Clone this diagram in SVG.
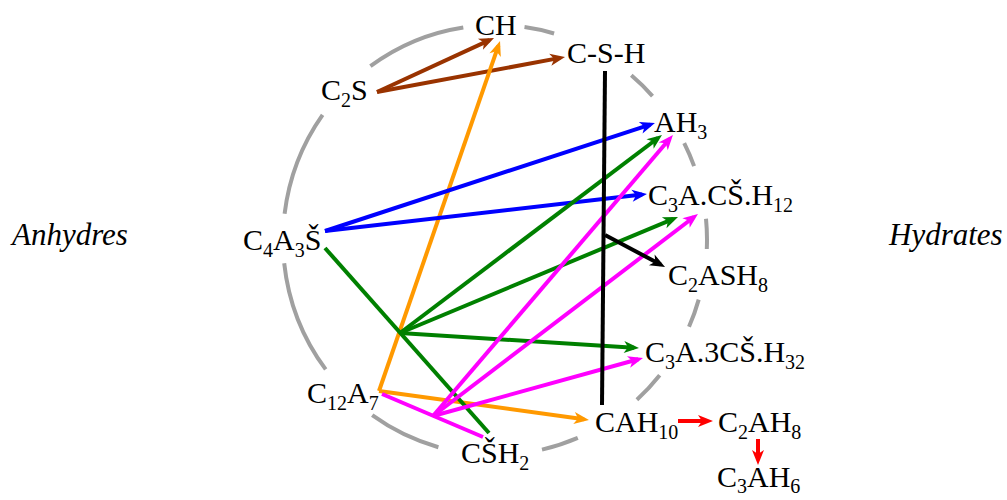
<svg xmlns="http://www.w3.org/2000/svg" width="1007" height="500" viewBox="0 0 1007 500">
<style>
.lbl{font-family:"Liberation Serif","Times New Roman",serif;font-size:30px;fill:#000}
.sub{font-size:20px}
.side{font-family:"Liberation Serif","Times New Roman",serif;font-size:31px;font-style:italic;fill:#000}
.c{fill:none;stroke-width:4;stroke-linecap:butt}
.ring{fill:none;stroke:#a0a0a0;stroke-width:4}
</style>
<defs>
<marker id="mBrown" markerUnits="userSpaceOnUse" orient="auto" refX="0" refY="0" markerWidth="30" markerHeight="30" viewBox="-15 -15 30 30" overflow="visible"><path d="M5,0 L-10,-6 L-6,0 L-10,6 Z" fill="#993300"/></marker>
<marker id="mOrange" markerUnits="userSpaceOnUse" orient="auto" refX="0" refY="0" markerWidth="30" markerHeight="30" viewBox="-15 -15 30 30" overflow="visible"><path d="M5,0 L-10,-6 L-6,0 L-10,6 Z" fill="#ff9900"/></marker>
<marker id="mBlue" markerUnits="userSpaceOnUse" orient="auto" refX="0" refY="0" markerWidth="30" markerHeight="30" viewBox="-15 -15 30 30" overflow="visible"><path d="M5,0 L-10,-6 L-6,0 L-10,6 Z" fill="#0000ff"/></marker>
<marker id="mGreen" markerUnits="userSpaceOnUse" orient="auto" refX="0" refY="0" markerWidth="30" markerHeight="30" viewBox="-15 -15 30 30" overflow="visible"><path d="M5,0 L-10,-6 L-6,0 L-10,6 Z" fill="#008000"/></marker>
<marker id="mMagenta" markerUnits="userSpaceOnUse" orient="auto" refX="0" refY="0" markerWidth="30" markerHeight="30" viewBox="-15 -15 30 30" overflow="visible"><path d="M5,0 L-10,-6 L-6,0 L-10,6 Z" fill="#ff00ff"/></marker>
<marker id="mBlack" markerUnits="userSpaceOnUse" orient="auto" refX="0" refY="0" markerWidth="30" markerHeight="30" viewBox="-15 -15 30 30" overflow="visible"><path d="M5,0 L-10,-6 L-6,0 L-10,6 Z" fill="#000000"/></marker>
<marker id="mRed" markerUnits="userSpaceOnUse" orient="auto" refX="0" refY="0" markerWidth="30" markerHeight="30" viewBox="-15 -15 30 30" overflow="visible"><path d="M5,0 L-10,-6 L-6,0 L-10,6 Z" fill="#ff0000"/></marker>
</defs>
<rect width="1007" height="500" fill="#fff"/>
<g id="ring">
<path class="ring" d="M370.4,66.1 A212,215 0 0 1 463.3,27.4 M524.5,27.1 A212,215 0 0 1 554.1,33.5 M631.3,75.3 A212,215 0 0 1 652.5,96.1 M684.2,143.1 A212,215 0 0 1 694.1,166.1 M706,218.7 A212,215 0 0 1 706.8,249 M698.7,299.6 A212,215 0 0 1 689,326.8 M659.7,375.3 A212,215 0 0 1 636.9,399.8 M577.8,437.9 A212,215 0 0 1 542,449.6 M438.4,447.2 A212,215 0 0 1 372.2,415.2 M325.7,369.4 A212,215 0 0 1 284.2,263.2 M284.6,213.8 A212,215 0 0 1 322.6,114.8"/>
</g>
<g id="connectors">
<line class="c" stroke="#993300" x1="377" y1="92" x2="489.5" y2="40.1" marker-end="url(#mBrown)"/>
<line class="c" stroke="#993300" x1="377" y1="92" x2="560.1" y2="57.9" marker-end="url(#mBrown)"/>
<line class="c" stroke="#ff9900" x1="379" y1="391" x2="498.4" y2="45.7" marker-end="url(#mOrange)"/>
<line class="c" stroke="#ff9900" x1="379" y1="391" x2="584" y2="419.3" marker-end="url(#mOrange)"/>
<line class="c" stroke="#0000ff" x1="325" y1="231" x2="650.2" y2="124.6" marker-end="url(#mBlue)"/>
<line class="c" stroke="#0000ff" x1="325" y1="231" x2="642" y2="194.6" marker-end="url(#mBlue)"/>
<line class="c" stroke="#008000" x1="325" y1="248" x2="489" y2="433"/>
<line class="c" stroke="#008000" x1="400" y1="333" x2="658" y2="138" marker-end="url(#mGreen)"/>
<line class="c" stroke="#008000" x1="400" y1="333" x2="673.4" y2="218.9" marker-end="url(#mGreen)"/>
<line class="c" stroke="#008000" x1="400" y1="333" x2="634" y2="347.7" marker-end="url(#mGreen)"/>
<line class="c" stroke="#ff00ff" x1="382" y1="394" x2="483" y2="437"/>
<line class="c" stroke="#ff00ff" x1="433" y1="416" x2="669.7" y2="138.8" marker-end="url(#mMagenta)"/>
<line class="c" stroke="#ff00ff" x1="433" y1="416" x2="694" y2="217" marker-end="url(#mMagenta)"/>
<line class="c" stroke="#ff00ff" x1="433" y1="416" x2="638.2" y2="359.3" marker-end="url(#mMagenta)"/>
<line class="c" stroke="#000000" x1="605" y1="71" x2="602" y2="405"/>
<line class="c" stroke="#000000" x1="605" y1="235" x2="660.6" y2="264.6" marker-end="url(#mBlack)"/>
<line class="c" stroke="#ff0000" x1="678" y1="421" x2="708" y2="421" marker-end="url(#mRed)"/>
<line class="c" stroke="#ff0000" x1="758" y1="439" x2="758" y2="460" marker-end="url(#mRed)"/>
</g>
<g id="n-CH"><text class="lbl" x="475" y="35">CH</text></g>
<g id="n-CSH"><text class="lbl" x="567" y="63">C-S-H</text></g>
<g id="n-C2S"><text class="lbl" x="321" y="100">C<tspan class="sub" dy="7">2</tspan><tspan dy="-7">S</tspan></text></g>
<g id="n-AH3"><text class="lbl" x="654" y="132">AH<tspan class="sub" dy="7">3</tspan></text></g>
<g id="n-C4A3S"><text class="lbl" x="243" y="250">C<tspan class="sub" dy="7">4</tspan><tspan dy="-7">A</tspan><tspan class="sub" dy="7">3</tspan><tspan dy="-7">Š</tspan></text></g>
<g id="n-C3ACSH12"><text class="lbl" x="648" y="205">C<tspan class="sub" dy="7">3</tspan><tspan dy="-7">A.CŠ.H</tspan><tspan class="sub" dy="7">12</tspan></text></g>
<g id="n-C2ASH8"><text class="lbl" x="668" y="285">C<tspan class="sub" dy="7">2</tspan><tspan dy="-7">ASH</tspan><tspan class="sub" dy="7">8</tspan></text></g>
<g id="n-C3A3CSH32"><text class="lbl" x="645" y="362">C<tspan class="sub" dy="7">3</tspan><tspan dy="-7">A.3CŠ.H</tspan><tspan class="sub" dy="7">32</tspan></text></g>
<g id="n-C12A7"><text class="lbl" x="307" y="403">C<tspan class="sub" dy="7">12</tspan><tspan dy="-7">A</tspan><tspan class="sub" dy="7">7</tspan></text></g>
<g id="n-CSH2"><text class="lbl" x="461" y="463">CŠH<tspan class="sub" dy="7">2</tspan></text></g>
<g id="n-CAH10"><text class="lbl" x="595" y="432">CAH<tspan class="sub" dy="7">10</tspan></text></g>
<g id="n-C2AH8"><text class="lbl" x="718" y="432">C<tspan class="sub" dy="7">2</tspan><tspan dy="-7">AH</tspan><tspan class="sub" dy="7">8</tspan></text></g>
<g id="n-C3AH6"><text class="lbl" x="717" y="487">C<tspan class="sub" dy="6">3</tspan><tspan dy="-6">AH</tspan><tspan class="sub" dy="6">6</tspan></text></g>
<g id="n-anhydres"><text class="side" x="12" y="245">Anhydres</text></g>
<g id="n-hydrates"><text class="side" x="889" y="245">Hydrates</text></g>
</svg>
